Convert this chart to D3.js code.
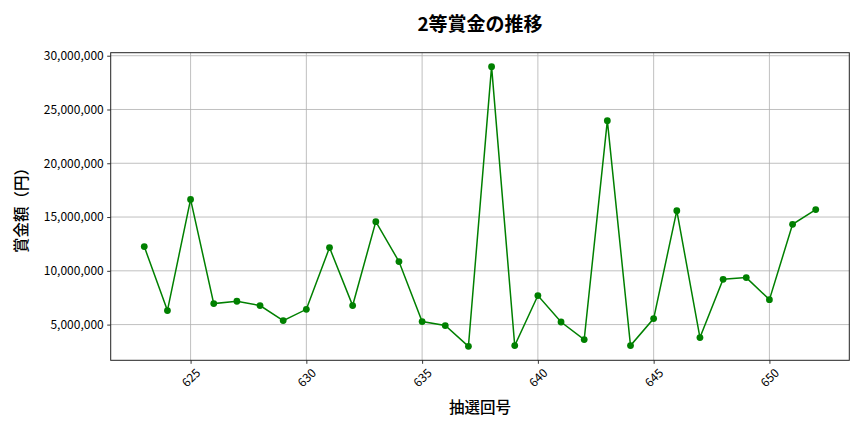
<!DOCTYPE html>
<html>
<head>
<meta charset="utf-8">
<script src="https://cdn.jsdelivr.net/npm/d3@7"></script>
<style>
  body { margin: 0; background: #fff; }
  svg { display: block; }
  text { font-family: "Noto Sans CJK JP", "Noto Sans", sans-serif; fill: #000; }
</style>
</head>
<body>
<div id="chart"></div>
<script>
// draw numbers (x) and 2nd prize amounts (y)
const draws = [623, 624, 625, 626, 627, 628, 629, 630, 631, 632,
               633, 634, 635, 636, 637, 638, 639, 640, 641, 642,
               643, 644, 645, 646, 647, 648, 649, 650, 651, 652];
const prizes = [12250000, 6300000, 16640000, 6950000, 7170000, 6770000, 5370000, 6420000, 12160000, 6770000,
                14570000, 10860000, 5280000, 4910000, 2980000, 28980000, 3050000, 7700000, 5240000, 3610000,
                23960000, 3050000, 5560000, 15590000, 3790000, 9210000, 9370000, 7320000, 14320000, 15690000];
const xTicks = [625, 630, 635, 640, 645, 650];
const yTicks = [5000000, 10000000, 15000000, 20000000, 25000000, 30000000];

const W = 864, H = 432;
const margin = { top: 52.7, right: 14.7, bottom: 71.7, left: 110.7 };
const iw = W - margin.left - margin.right;
const ih = H - margin.top - margin.bottom;

const data = draws.map((d, i) => ({ draw: d, prize: prizes[i] }));

// matplotlib style 5% padding
function padded(ext) {
  const p = (ext[1] - ext[0]) * 0.05;
  return [ext[0] - p, ext[1] + p];
}

const x = d3.scaleLinear().domain(padded(d3.extent(draws))).range([0, iw]);
const y = d3.scaleLinear().domain(padded(d3.extent(prizes))).range([ih, 0]);

const svg = d3.select("#chart").append("svg")
  .attr("width", W).attr("height", H);

const g = svg.append("g")
  .attr("transform", `translate(${margin.left},${margin.top})`);

// grid
g.append("g").selectAll("line").data(xTicks).enter().append("line")
  .attr("x1", d => x(d)).attr("x2", d => x(d))
  .attr("y1", 0).attr("y2", ih)
  .attr("stroke", "#b0b0b0").attr("stroke-width", 0.8);
g.append("g").selectAll("line").data(yTicks).enter().append("line")
  .attr("x1", 0).attr("x2", iw)
  .attr("y1", d => y(d)).attr("y2", d => y(d))
  .attr("stroke", "#b0b0b0").attr("stroke-width", 0.8);

// axes
const fmt = d3.format(",");
const yAxis = g.append("g")
  .call(d3.axisLeft(y).tickValues(yTicks).tickFormat(fmt).tickSize(3.5).tickPadding(3.5));
yAxis.select(".domain").remove();
yAxis.selectAll("line").attr("stroke", "#000").attr("stroke-width", 0.8);
yAxis.selectAll("text").style("font-size", "12px")
  .style("font-family", '"Noto Sans CJK JP", sans-serif').attr("fill", "#000");

const xAxis = g.append("g")
  .attr("transform", `translate(0,${ih})`)
  .call(d3.axisBottom(x).tickValues(xTicks).tickFormat(d3.format("d")).tickSize(3.5));
xAxis.select(".domain").remove();
xAxis.selectAll("line").attr("stroke", "#000").attr("stroke-width", 0.8);
xAxis.selectAll("text")
  .style("font-size", "12px")
  .style("font-family", '"Noto Sans CJK JP", sans-serif')
  .attr("fill", "#000")
  .attr("y", 0).attr("dy", "0.35em")
  .attr("text-anchor", "middle")
  .attr("transform", "translate(0,17.5) rotate(-45)");

// frame
g.append("rect")
  .attr("width", iw).attr("height", ih)
  .attr("fill", "none").attr("stroke", "#222").attr("stroke-width", 1);

// line + markers
const line = d3.line().x(d => x(d.draw)).y(d => y(d.prize));
g.append("path")
  .datum(data)
  .attr("fill", "none")
  .attr("stroke", "#008000")
  .attr("stroke-width", 1.5)
  .attr("d", line);

g.selectAll(".pt").data(data).enter().append("circle")
  .attr("class", "pt")
  .attr("cx", d => x(d.draw))
  .attr("cy", d => y(d.prize))
  .attr("r", 3.4)
  .attr("fill", "#008000");

// titles
svg.append("text")
  .attr("x", margin.left + iw / 2).attr("y", 31)
  .attr("text-anchor", "middle")
  .style("font-size", "19px").style("font-weight", "bold")
  .text("2等賞金の推移");

svg.append("text")
  .attr("x", margin.left + iw / 2).attr("y", 413)
  .attr("text-anchor", "middle")
  .style("font-size", "15.5px").style("font-weight", "500")
  .text("抽選回号");

svg.append("text")
  .attr("transform", `translate(27,${margin.top + ih / 2}) rotate(-90)`)
  .attr("text-anchor", "middle")
  .style("font-size", "15.5px").style("font-weight", "500")
  .text("賞金額（円）");
</script>
</body>
</html>
